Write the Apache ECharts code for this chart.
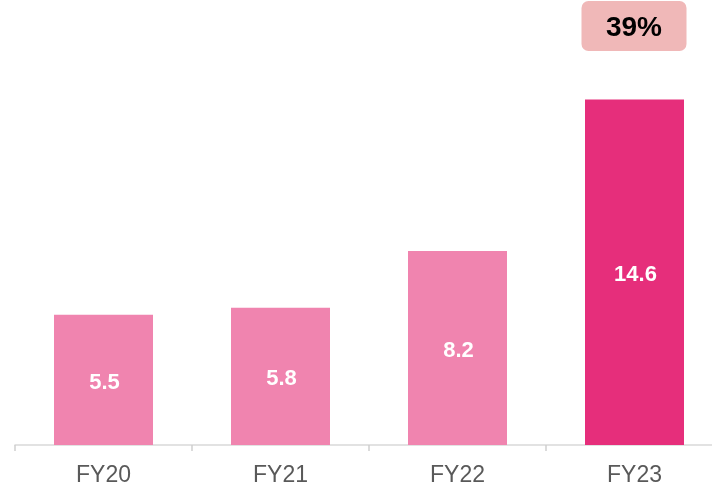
<!DOCTYPE html>
<html>
<head>
<meta charset="utf-8">
<script src="https://cdn.jsdelivr.net/npm/echarts@6/dist/echarts.min.js"></script>
<style>
  html, body { margin: 0; padding: 0; background: #ffffff; overflow: hidden; width: 712px; height: 489px; }
  /* the axis runs on past the right edge of the window */
  #chart { width: 723px; height: 489px; }
</style>
</head>
<body>
<div id="chart"></div>
<script>
// Fiscal years and values shown on the bars
const categories = ['FY20', 'FY21', 'FY22', 'FY23'];
const values = [5.5, 5.8, 8.2, 14.6];
const growthLabel = '39%';

const lightPink = '#F084AF';
const darkPink = '#E62E7B';
const fontFamily = '"Liberation Sans", Arial, sans-serif';

const chart = echarts.init(document.getElementById('chart'));

const option = {
  animation: false,
  grid: { left: 15, right: 0, top: 19, bottom: 44, containLabel: false },
  xAxis: {
    type: 'category',
    data: categories,
    axisLine: { lineStyle: { color: '#d9d9d9', width: 1.5 } },
    axisTick: { show: true, length: 6, lineStyle: { color: '#d0d0d0', width: 1.5 } },
    axisLabel: {
      color: '#595959',
      fontFamily: fontFamily,
      fontSize: 23,
      margin: 19
    }
  },
  yAxis: {
    type: 'value',
    min: 0,
    max: 18,
    show: false,
    splitLine: { show: false }
  },
  series: [{
    type: 'bar',
    data: values.map((v, i) => ({
      value: v,
      itemStyle: { color: i === values.length - 1 ? darkPink : lightPink }
    })),
    barWidth: 99,
    barGap: 0,
    label: {
      show: true,
      position: 'inside',
      offset: [1, 3],
      color: '#ffffff',
      fontWeight: 'bold',
      fontFamily: fontFamily,
      fontSize: 22
    }
  }]
};

chart.setOption(option);

// Growth badge placed above the last bar
const lastX = chart.convertToPixel({ xAxisIndex: 0 }, categories[categories.length - 1]);
chart.setOption({
  graphic: [{
    type: 'group',
    left: lastX - 53,
    top: 1,
    children: [{
      type: 'rect',
      shape: { x: 0, y: 0, width: 105, height: 50, r: 7 },
      style: { fill: '#F0B8B8' }
    }, {
      type: 'text',
      x: 52.5,
      y: 27,
      style: {
        text: growthLabel,
        fill: '#000000',
        font: 'bold 28px "Liberation Sans", Arial, sans-serif',
        textAlign: 'center',
        textVerticalAlign: 'middle'
      }
    }]
  }]
});
</script>
</body>
</html>
